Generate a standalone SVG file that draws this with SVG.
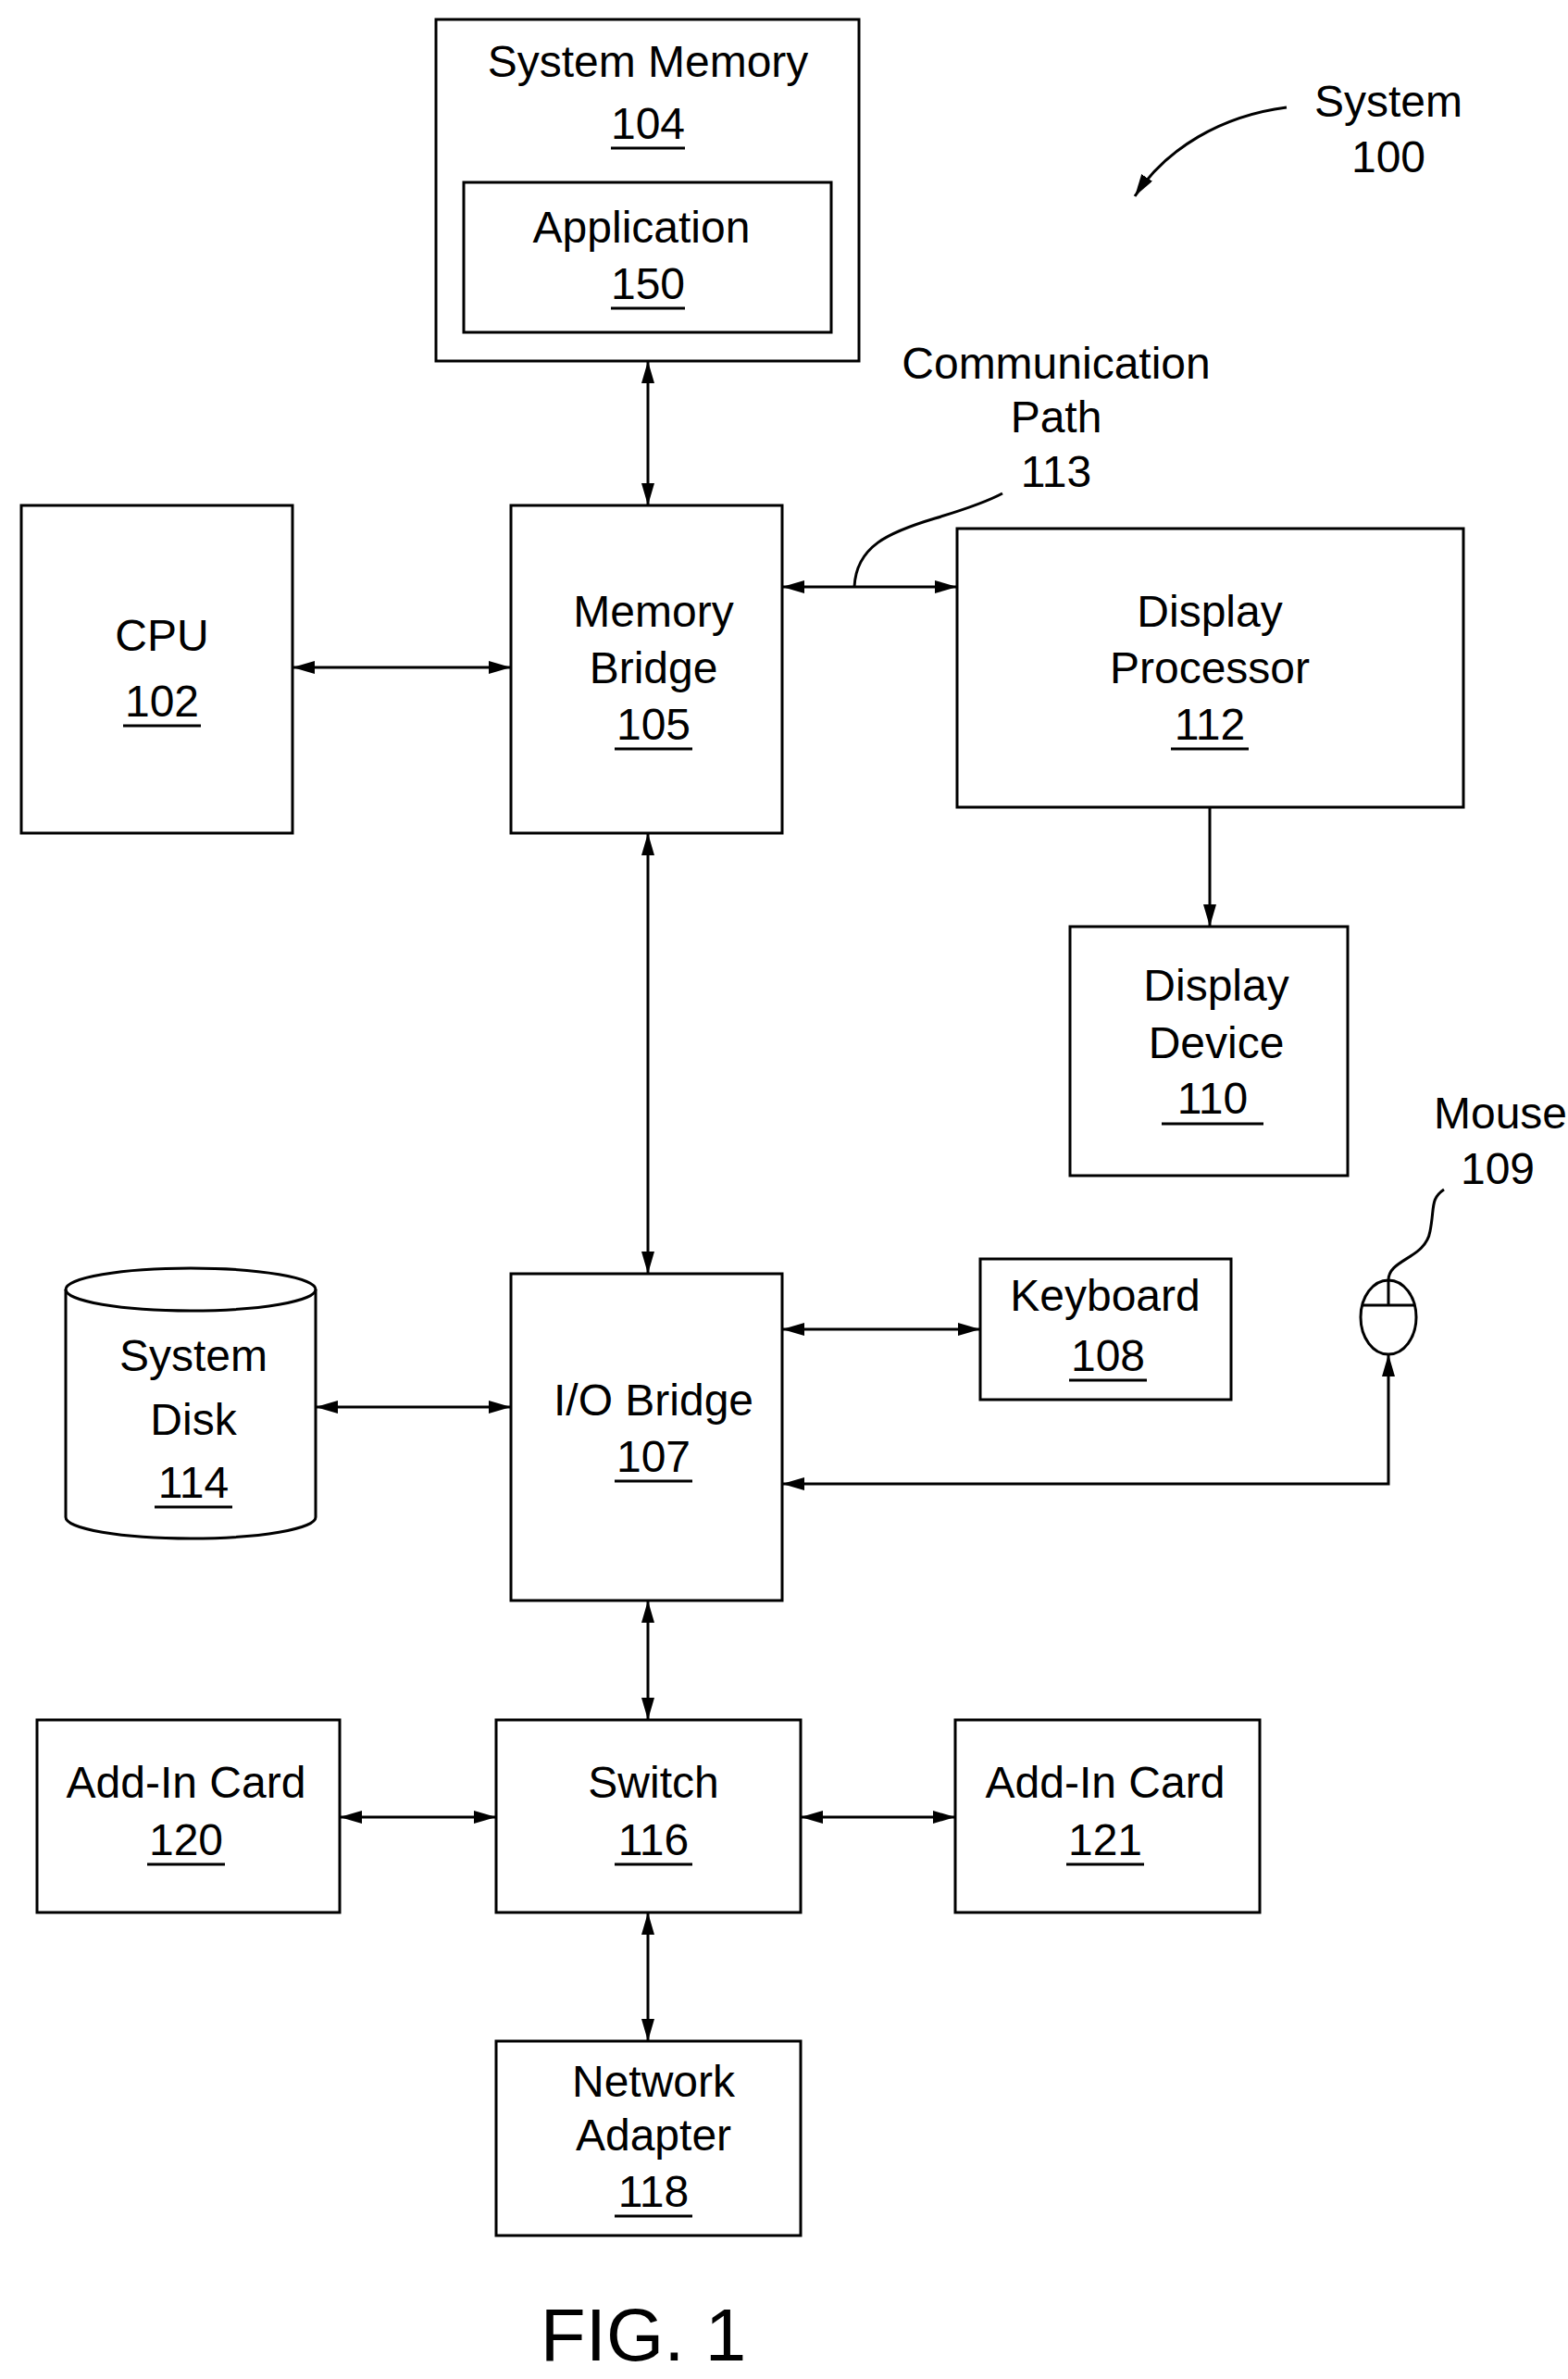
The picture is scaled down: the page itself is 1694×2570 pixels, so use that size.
<svg xmlns="http://www.w3.org/2000/svg" width="1694" height="2570" viewBox="0 0 1694 2570">
<style>
.b{fill:#fff;stroke:#000;stroke-width:3}
text{font-family:"Liberation Sans",Arial,sans-serif;font-size:48px;text-anchor:middle;fill:#000}
.u{stroke:#000;stroke-width:3}
.c{fill:none;stroke:#000;stroke-width:3}
</style>
<defs><marker id="a" viewBox="0 0 10 10" refX="10" refY="5" markerWidth="9" markerHeight="7" markerUnits="userSpaceOnUse" orient="auto-start-reverse" style="overflow:visible"><path d="M0,0 L10,5 L0,10z" fill="#000" transform="scale(3.2,1.4) translate(-6.9,-1.4)"/></marker>
<marker id="m" viewBox="0 0 24 14" refX="24" refY="7" markerWidth="24" markerHeight="14" markerUnits="userSpaceOnUse" orient="auto-start-reverse"><path d="M0,0 L24,7 L0,14z" fill="#000"/></marker></defs>
<rect width="1694" height="2570" fill="#fff"/>
<g id="sysmem"><rect class="b" x="471" y="21" width="457" height="369"/><text x="700" y="83">System Memory</text><text x="700" y="150">104</text><line class="u" x1="660" y1="160" x2="740" y2="160"/></g>
<g id="app"><rect class="b" x="501" y="197" width="397" height="162"/><text x="693" y="262">Application</text><text x="700" y="323">150</text><line class="u" x1="660" y1="333" x2="740" y2="333"/></g>
<g id="cpu"><rect class="b" x="23" y="546" width="293" height="354"/><text x="175" y="703">CPU</text><text x="175" y="774">102</text><line class="u" x1="133" y1="784" x2="217" y2="784"/></g>
<g id="mb"><rect class="b" x="552" y="546" width="293" height="354"/><text x="706" y="677">Memory</text><text x="706" y="738">Bridge</text><text x="706" y="799">105</text><line class="u" x1="664" y1="809" x2="748" y2="809"/></g>
<g id="dp"><rect class="b" x="1034" y="571" width="547" height="301"/><text x="1307" y="677">Display</text><text x="1307" y="738">Processor</text><text x="1307" y="799">112</text><line class="u" x1="1265" y1="809" x2="1349" y2="809"/></g>
<g id="dd"><rect class="b" x="1156" y="1001" width="300" height="269"/><text x="1314" y="1081">Display</text><text x="1314" y="1143">Device</text><text x="1310" y="1203">110</text><line class="u" x1="1255" y1="1214" x2="1365" y2="1214"/></g>
<g id="io"><rect class="b" x="552" y="1376" width="293" height="353"/><text x="706" y="1529">I/O Bridge</text><text x="706" y="1590">107</text><line class="u" x1="664" y1="1600" x2="748" y2="1600"/></g>
<g id="kb"><rect class="b" x="1059" y="1360" width="271" height="152"/><text x="1194" y="1416">Keyboard</text><text x="1197" y="1481">108</text><line class="u" x1="1155" y1="1491" x2="1239" y2="1491"/></g>
<g id="disk"><path class="b" d="M71,1393 A135,23 0 0 1 341,1393 L341,1639 A135,23 0 0 1 71,1639 Z"/><path class="c" d="M71,1393 A135,23 0 0 0 341,1393"/><text x="209" y="1481">System</text><text x="209" y="1550">Disk</text><text x="209" y="1618">114</text><line class="u" x1="167" y1="1628" x2="251" y2="1628"/></g>
<g id="mouse"><ellipse class="b" cx="1500" cy="1423" rx="30" ry="40"/><path class="c" d="M1472,1410 H1528 M1500,1383 V1410"/><path class="c" d="M1500,1383 C1500,1360 1540,1360 1545,1330 C1550,1305 1545,1295 1560,1285"/><text x="1621" y="1219">Mouse</text><text x="1618" y="1279">109</text></g>
<g id="ac120"><rect class="b" x="40" y="1858" width="327" height="208"/><text x="201" y="1942">Add-In Card</text><text x="201" y="2004">120</text><line class="u" x1="159" y1="2014" x2="243" y2="2014"/></g>
<g id="sw"><rect class="b" x="536" y="1858" width="329" height="208"/><text x="706" y="1942">Switch</text><text x="706" y="2004">116</text><line class="u" x1="664" y1="2014" x2="748" y2="2014"/></g>
<g id="ac121"><rect class="b" x="1032" y="1858" width="329" height="208"/><text x="1194" y="1942">Add-In Card</text><text x="1194" y="2004">121</text><line class="u" x1="1152" y1="2014" x2="1236" y2="2014"/></g>
<g id="na"><rect class="b" x="536" y="2205" width="329" height="210"/><text x="706" y="2265">Network</text><text x="706" y="2323">Adapter</text><text x="706" y="2384">118</text><line class="u" x1="664" y1="2394" x2="748" y2="2394"/></g>
<g id="labels"><text x="1500" y="126">System</text><text x="1500" y="186">100</text><text x="1141" y="409">Communication</text><text x="1141" y="467">Path</text><text x="1141" y="526">113</text><text x="695" y="2570" style="font-size:80px" dy="-20">FIG. 1</text></g>
<g id="connectors">
<line class="c" x1="700" y1="390" x2="700" y2="546" marker-start="url(#m)" marker-end="url(#m)"/>
<line class="c" x1="316" y1="721" x2="552" y2="721" marker-start="url(#m)" marker-end="url(#m)"/>
<line class="c" x1="845" y1="634" x2="1034" y2="634" marker-start="url(#m)" marker-end="url(#m)"/>
<path class="c" d="M923,634 C925,590 960,575 1010,560 C1050,548 1070,540 1083,533"/>
<line class="c" x1="1307" y1="872" x2="1307" y2="1001" marker-end="url(#m)"/>
<line class="c" x1="700" y1="900" x2="700" y2="1376" marker-start="url(#m)" marker-end="url(#m)"/>
<line class="c" x1="341" y1="1520" x2="552" y2="1520" marker-start="url(#m)" marker-end="url(#m)"/>
<line class="c" x1="845" y1="1436" x2="1059" y2="1436" marker-start="url(#m)" marker-end="url(#m)"/>
<path class="c" d="M1500,1463 V1603 H845" marker-start="url(#m)" marker-end="url(#m)"/>
<line class="c" x1="700" y1="1729" x2="700" y2="1858" marker-start="url(#m)" marker-end="url(#m)"/>
<line class="c" x1="367" y1="1963" x2="536" y2="1963" marker-start="url(#m)" marker-end="url(#m)"/>
<line class="c" x1="865" y1="1963" x2="1032" y2="1963" marker-start="url(#m)" marker-end="url(#m)"/>
<line class="c" x1="700" y1="2066" x2="700" y2="2205" marker-start="url(#m)" marker-end="url(#m)"/>
<path class="c" d="M1390,116 C1320,125 1260,160 1226,212" marker-end="url(#m)"/>
</g>
</svg>
